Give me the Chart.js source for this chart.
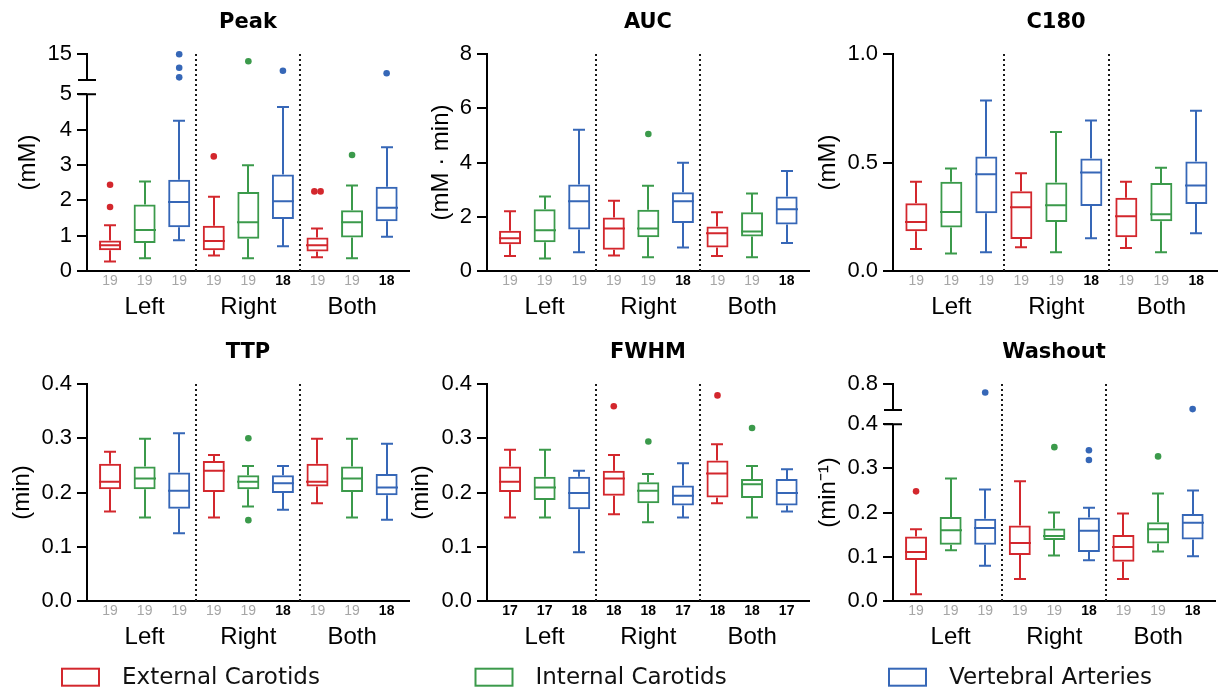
<!DOCTYPE html>
<html>
<head>
<meta charset="utf-8">
<script src="https://cdn.jsdelivr.net/npm/chart.js@4.4.1/dist/chart.umd.min.js"></script>
<style>
    html, body { margin: 0; padding: 0; background: #fff; width: 1218px; height: 693px; overflow: hidden; }
    canvas { position: absolute; }
</style>
</head>
<body>
<canvas id="peak" width="413" height="330" style="left:0;top:0"></canvas>
<canvas id="auc" width="413" height="330" style="left:400px;top:0"></canvas>
<canvas id="c180" width="413" height="330" style="left:806px;top:0"></canvas>
<canvas id="ttp" width="413" height="330" style="left:0;top:330px"></canvas>
<canvas id="fwhm" width="413" height="330" style="left:400px;top:330px"></canvas>
<canvas id="washout" width="413" height="330" style="left:806px;top:330px"></canvas>
<canvas id="legend" width="1218" height="38" style="left:0;top:656px"></canvas>
<script>
// box order: Left (ext, int, vert), Right (ext, int, vert), Both (ext, int, vert)
// each box: [min, q1, median, q3, max]
const groups = ['Left', 'Right', 'Both'];
const vessels = ['External Carotids', 'Internal Carotids', 'Vertebral Arteries'];
const vesselColors = ['#d3272d', '#3b9a4b', '#3667b7'];

const peakBoxes = [
    [0.27, 0.59, 0.73, 0.865, 1.29], [0.36, 0.79, 1.16, 1.88, 2.53], [0.87, 1.24, 1.95, 2.58, 4.25],
    [0.44, 0.59, 0.85, 1.28, 2.10], [0.36, 0.91, 1.38, 2.23, 2.99], [0.70, 1.47, 1.97, 2.73, 4.64],
    [0.39, 0.55, 0.73, 0.95, 1.20], [0.36, 0.95, 1.38, 1.72, 2.42], [0.97, 1.41, 1.79, 2.38, 3.50]
];
const peakOutliers = [[2.44, 1.81], [], [14.94, 12.37, 10.52], [3.24], [13.6], [11.79], [2.25, 2.25], [3.28], [11.29]];
const peakN = [19, 19, 19, 19, 19, 18, 19, 19, 18];
const peakTicks = [0, 1, 2, 3, 4, 5, 15];

const aucBoxes = [
    [0.55, 0.99, 1.21, 1.48, 2.20], [0.46, 1.06, 1.50, 2.28, 2.75], [0.69, 1.53, 2.57, 3.19, 5.21],
    [0.57, 0.78, 1.57, 1.97, 2.59], [0.51, 1.24, 1.57, 2.26, 3.14], [0.87, 1.77, 2.57, 2.90, 3.99],
    [0.55, 0.87, 1.39, 1.64, 2.17], [0.51, 1.27, 1.46, 2.17, 2.86], [1.03, 1.71, 2.28, 2.75, 3.69]
];
const aucOutliers = [[], [], [], [], [5.05], [], [], [], []];
const aucN = [19, 19, 19, 19, 19, 18, 19, 19, 18];
const aucTicks = [0, 2, 4, 6, 8];

const c180Boxes = [
    [0.101, 0.183, 0.226, 0.312, 0.411], [0.081, 0.200, 0.272, 0.411, 0.472], [0.086, 0.266, 0.446, 0.528, 0.786],
    [0.110, 0.147, 0.294, 0.368, 0.450], [0.086, 0.226, 0.303, 0.408, 0.641], [0.151, 0.300, 0.454, 0.518, 0.693],
    [0.106, 0.156, 0.252, 0.338, 0.411], [0.086, 0.229, 0.261, 0.405, 0.476], [0.174, 0.309, 0.394, 0.505, 0.739]
];
const c180Outliers = [[], [], [], [], [], [], [], [], []];
const c180N = [19, 19, 19, 19, 19, 18, 19, 19, 18];
const c180Ticks = [0, 0.5, 1.0];

const ttpBoxes = [
    [0.165, 0.206, 0.220, 0.253, 0.275], [0.154, 0.206, 0.226, 0.248, 0.299], [0.125, 0.170, 0.203, 0.237, 0.309],
    [0.154, 0.201, 0.240, 0.258, 0.269], [0.174, 0.206, 0.220, 0.232, 0.249], [0.168, 0.199, 0.217, 0.232, 0.249],
    [0.180, 0.211, 0.220, 0.253, 0.299], [0.154, 0.201, 0.226, 0.248, 0.299], [0.150, 0.195, 0.209, 0.234, 0.290]
];
const ttpOutliers = [[], [], [], [], [0.300, 0.149], [], [], [], []];
const ttpN = [19, 19, 19, 19, 19, 18, 19, 19, 18];
const ttpTicks = [0, 0.1, 0.2, 0.3, 0.4];

const fwhmBoxes = [
    [0.154, 0.201, 0.220, 0.248, 0.279], [0.154, 0.186, 0.209, 0.229, 0.279], [0.090, 0.169, 0.199, 0.229, 0.240],
    [0.160, 0.194, 0.226, 0.240, 0.269], [0.145, 0.180, 0.203, 0.219, 0.234], [0.154, 0.176, 0.194, 0.213, 0.254],
    [0.180, 0.191, 0.235, 0.259, 0.289], [0.154, 0.190, 0.215, 0.225, 0.249], [0.165, 0.176, 0.199, 0.225, 0.243]
];
const fwhmOutliers = [[], [], [], [0.359], [0.294], [], [0.379], [0.319], []];
const fwhmN = [17, 17, 18, 18, 18, 17, 18, 18, 17];
const fwhmTicks = [0, 0.1, 0.2, 0.3, 0.4];

const washoutBoxes = [
    [0.015, 0.093, 0.111, 0.146, 0.162], [0.115, 0.127, 0.160, 0.190, 0.277], [0.080, 0.127, 0.165, 0.186, 0.252],
    [0.050, 0.104, 0.131, 0.171, 0.271], [0.103, 0.138, 0.147, 0.164, 0.200], [0.092, 0.111, 0.159, 0.189, 0.211],
    [0.050, 0.089, 0.122, 0.149, 0.198], [0.112, 0.130, 0.162, 0.178, 0.243], [0.101, 0.139, 0.177, 0.197, 0.250]
];
const washoutOutliers = [[0.248], [], [0.702], [], [0.348], [0.341, 0.319], [], [0.327], [0.511]];
const washoutN = [19, 19, 19, 19, 19, 18, 19, 19, 18];
const washoutTicks = [0, 0.1, 0.2, 0.3, 0.4, 0.8];

// y axis with a gap between lowMax and highMin
class BrokenLinearScale extends Chart.LinearScale {
    _decimal(v) {
        const b = this.options.brk;
        if (!b) return (v - this.min) / (this.max - this.min);
        const hiFrac = 1 - b.lowFrac - b.gapFrac;
        if (v <= b.lowMax) return (v - this.min) / (b.lowMax - this.min) * b.lowFrac;
        if (v >= b.highMin) return b.lowFrac + b.gapFrac + (v - b.highMin) / (this.max - b.highMin) * hiFrac;
        return b.lowFrac + (v - b.lowMax) / (b.highMin - b.lowMax) * b.gapFrac;
    }
    getPixelForValue(v) {
        if (v === null || v === undefined || isNaN(v)) return NaN;
        return this.getPixelForDecimal(this._decimal(v));
    }
}
BrokenLinearScale.id = 'brokenLinear';
BrokenLinearScale.defaults = Chart.LinearScale.defaults;
Chart.register(BrokenLinearScale);

Chart.defaults.font.family = "'Liberation Sans', Arial, sans-serif";
Chart.defaults.color = '#000';

const X_MIN = 0.333, X_MAX = 9.647;
const dividers = [3.5, 6.5];
const fixed1 = v => v.toFixed(1);

const panels = [
    { id: 'peak', title: 'Peak', yTitle: '(mM)', titlePad: 13.6, boxes: peakBoxes, outliers: peakOutliers, n: peakN, ticks: peakTicks,
      min: 0, max: 15, fmt: v => String(v), brk: { lowMax: 5, highMin: 10, lowFrac: 0.815, gapFrac: 0.065 } },
    { id: 'auc', title: 'AUC', yTitle: '(mM \u00b7 min)', titlePad: 27.3, boxes: aucBoxes, outliers: aucOutliers, n: aucN, ticks: aucTicks,
      min: 0, max: 8, fmt: v => String(v) },
    { id: 'c180', title: 'C180', yTitle: '(mM)', titlePad: 7.6, boxes: c180Boxes, outliers: c180Outliers, n: c180N, ticks: c180Ticks,
      min: 0, max: 1, fmt: fixed1 },
    { id: 'ttp', title: 'TTP', yTitle: '(min)', titlePad: 7.6, boxes: ttpBoxes, outliers: ttpOutliers, n: ttpN, ticks: ttpTicks,
      min: 0, max: 0.4, fmt: fixed1 },
    { id: 'fwhm', title: 'FWHM', yTitle: '(min)', titlePad: 7.3, boxes: fwhmBoxes, outliers: fwhmOutliers, n: fwhmN, ticks: fwhmTicks,
      min: 0, max: 0.4, fmt: fixed1 },
    { id: 'washout', title: 'Washout', yTitle: '(min\u207b\u00b9)', titlePad: 7.6, boxes: washoutBoxes, outliers: washoutOutliers, n: washoutN, ticks: washoutTicks,
      min: 0, max: 0.8, fmt: fixed1, brk: { lowMax: 0.4, highMin: 0.5, lowFrac: 0.815, gapFrac: 0.065 } }
];

function outlierPoints(outliers) {
    const pts = [];
    outliers.forEach((list, i) => {
        list.forEach((v, j) => {
            // equal values are spread side by side
            const same = list.filter(w => w === v).length;
            const k = list.slice(0, j).filter(w => w === v).length;
            const dx = same > 1 ? (k - (same - 1) / 2) * 0.18 : 0;
            pts.push({ x: i + 1 + dx, y: v, color: vesselColors[i % 3] });
        });
    });
    return pts;
}

function makePanel(p) {
    const colorAt = i => vesselColors[i % 3];
    const pts = outlierPoints(p.outliers);
    const boxHalf = 11, capHalf = 6;

    const boxPlugin = {
        id: 'boxWhiskers',
        beforeDatasetsDraw(chart) {
            const { ctx, chartArea, scales: { x } } = chart;
            ctx.save();
            ctx.strokeStyle = '#1a1a1a';
            ctx.lineWidth = 2;
            ctx.setLineDash([2, 3]);
            dividers.forEach(v => {
                const px = Math.round(x.getPixelForValue(v));
                ctx.beginPath();
                ctx.moveTo(px, chartArea.bottom);
                ctx.lineTo(px, chartArea.top);
                ctx.stroke();
            });
            ctx.restore();
        },
        afterDatasetsDraw(chart) {
            const { ctx, scales: { x, y } } = chart;
            ctx.save();
            ctx.lineWidth = 2;
            p.boxes.forEach((b, i) => {
                const cx = Math.round(x.getPixelForValue(i + 1));
                const [yMin, yQ1, yMed, yQ3, yMax] = b.map(v => y.getPixelForValue(v));
                ctx.strokeStyle = colorAt(i);
                ctx.beginPath();
                ctx.moveTo(cx, yQ3); ctx.lineTo(cx, yMax);
                ctx.moveTo(cx - capHalf, yMax); ctx.lineTo(cx + capHalf, yMax);
                ctx.moveTo(cx, yQ1); ctx.lineTo(cx, yMin);
                ctx.moveTo(cx - capHalf, yMin); ctx.lineTo(cx + capHalf, yMin);
                ctx.moveTo(cx - boxHalf, yMed); ctx.lineTo(cx + boxHalf, yMed);
                ctx.stroke();
            });
            ctx.restore();
        },
        afterDraw(chart) {
            if (!p.brk) return;
            const { ctx, chartArea, scales: { y } } = chart;
            const xl = Math.round(chartArea.left);
            const yLow = y.getPixelForValue(p.brk.lowMax);
            const yHigh = y.getPixelForValue(p.brk.highMin);
            ctx.save();
            ctx.strokeStyle = '#000';
            ctx.lineWidth = 2;
            ctx.beginPath();
            ctx.moveTo(xl, y.getPixelForValue(p.min) + 1); ctx.lineTo(xl, yLow);
            ctx.moveTo(xl, yHigh); ctx.lineTo(xl, y.getPixelForValue(p.max) - 1);
            ctx.moveTo(xl - 9, yLow); ctx.lineTo(xl + 9, yLow);
            ctx.moveTo(xl - 9, yHigh); ctx.lineTo(xl + 9, yHigh);
            ctx.stroke();
            ctx.restore();
        }
    };

    return new Chart(document.getElementById(p.id), {
        type: 'bar',
        data: {
            datasets: [
                {
                    type: 'bar',
                    data: p.boxes.map((b, i) => ({ x: i + 1, y: [b[1], b[3]] })),
                    backgroundColor: 'rgba(255,255,255,0)',
                    borderColor: p.boxes.map((b, i) => colorAt(i)),
                    borderWidth: 2,
                    borderSkipped: false,
                    barThickness: 22,
                    inflateAmount: 0,
                    clip: false,
                    order: 2
                },
                {
                    type: 'scatter',
                    data: pts,
                    pointBackgroundColor: pts.map(pt => pt.color),
                    pointBorderWidth: 0,
                    pointRadius: 3.3,
                    clip: false,
                    order: 1
                }
            ]
        },
        options: {
            responsive: false,
            animation: false,
            events: [],
            layout: { padding: 0 },
            plugins: {
                legend: { display: false },
                tooltip: { enabled: false },
                title: {
                    display: true,
                    text: p.title,
                    fullSize: false,
                    color: '#000',
                    font: { family: "'DejaVu Sans', sans-serif", weight: 'bold', size: 21 },
                    padding: { top: 10.4, bottom: 18.4 }
                }
            },
            scales: {
                x: {
                    type: 'linear',
                    min: X_MIN,
                    max: X_MAX,
                    offset: false,
                    afterBuildTicks: s => { s.ticks = p.n.map((c, i) => ({ value: i + 1 })); },
                    afterFit: s => { s.height = 22; },
                    ticks: {
                        autoSkip: false,
                        maxRotation: 0,
                        padding: 2,
                        callback: (v, i) => String(p.n[i]),
                        font: c => ({ family: "'Liberation Sans', Arial, sans-serif", size: 14, weight: p.n[c.index] < 19 ? 'bold' : 'normal' }),
                        color: c => p.n[c.index] < 19 ? '#000' : '#a6a6a6'
                    },
                    grid: { display: false, drawTicks: false, offset: false },
                    border: { display: true, color: '#000', width: 2 }
                },
                xg: {
                    type: 'linear',
                    position: 'bottom',
                    weight: 1,
                    min: X_MIN,
                    max: X_MAX,
                    offset: false,
                    afterBuildTicks: s => { s.ticks = groups.map((g, i) => ({ value: 2 + i * 3 })); },
                    afterFit: s => { s.height = 37; },
                    ticks: {
                        autoSkip: false,
                        maxRotation: 0,
                        padding: 0,
                        callback: (v, i) => groups[i],
                        font: { size: 24 },
                        color: '#000'
                    },
                    grid: { display: false, drawTicks: false },
                    border: { display: false }
                },
                y: {
                    type: p.brk ? 'brokenLinear' : 'linear',
                    brk: p.brk,
                    min: p.min,
                    max: p.max,
                    afterBuildTicks: s => { s.ticks = p.ticks.map(v => ({ value: v })); },
                    afterFit: s => { s.width = 87; },
                    ticks: {
                        autoSkip: false,
                        padding: 5,
                        font: { size: 22 },
                        color: '#000',
                        callback: v => p.fmt(v)
                    },
                    grid: { drawOnChartArea: false, drawTicks: true, tickLength: 10, color: '#000', lineWidth: 2 },
                    border: { display: !p.brk, color: '#000', width: 2 },
                    title: {
                        display: true,
                        text: p.yTitle,
                        color: '#000',
                        font: { size: 24 },
                        padding: { top: p.titlePad, bottom: 0 }
                    }
                }
            }
        },
        plugins: [boxPlugin]
    });
}

panels.forEach(makePanel);

// legend row: three evenly spaced entries
const legendRow = {
    id: 'legendRow',
    afterDraw(chart) {
        const { ctx } = chart;
        ctx.save();
        chart.data.datasets.forEach((ds, i) => {
            const x = 61 + i * 413.5;
            ctx.lineWidth = ds.borderWidth;
            ctx.strokeStyle = ds.borderColor;
            ctx.fillStyle = ds.backgroundColor;
            ctx.fillRect(x + 1, 12.7, 37, 17);
            ctx.strokeRect(x + 1, 12.7, 37, 17);
            ctx.fillStyle = '#111';
            ctx.font = "23px 'DejaVu Sans', sans-serif";
            ctx.textBaseline = 'middle';
            ctx.textAlign = 'left';
            ctx.fillText(ds.label, x + 61, 22);
        });
        ctx.restore();
    }
};

new Chart(document.getElementById('legend'), {
    type: 'bar',
    data: {
        datasets: vessels.map((v, i) => ({ label: v, data: [], borderColor: vesselColors[i], backgroundColor: '#fff', borderWidth: 2 }))
    },
    options: {
        responsive: false,
        animation: false,
        events: [],
        plugins: { legend: { display: false }, tooltip: { enabled: false } },
        scales: { x: { display: false }, y: { display: false } }
    },
    plugins: [legendRow]
});
</script>
</body>
</html>
